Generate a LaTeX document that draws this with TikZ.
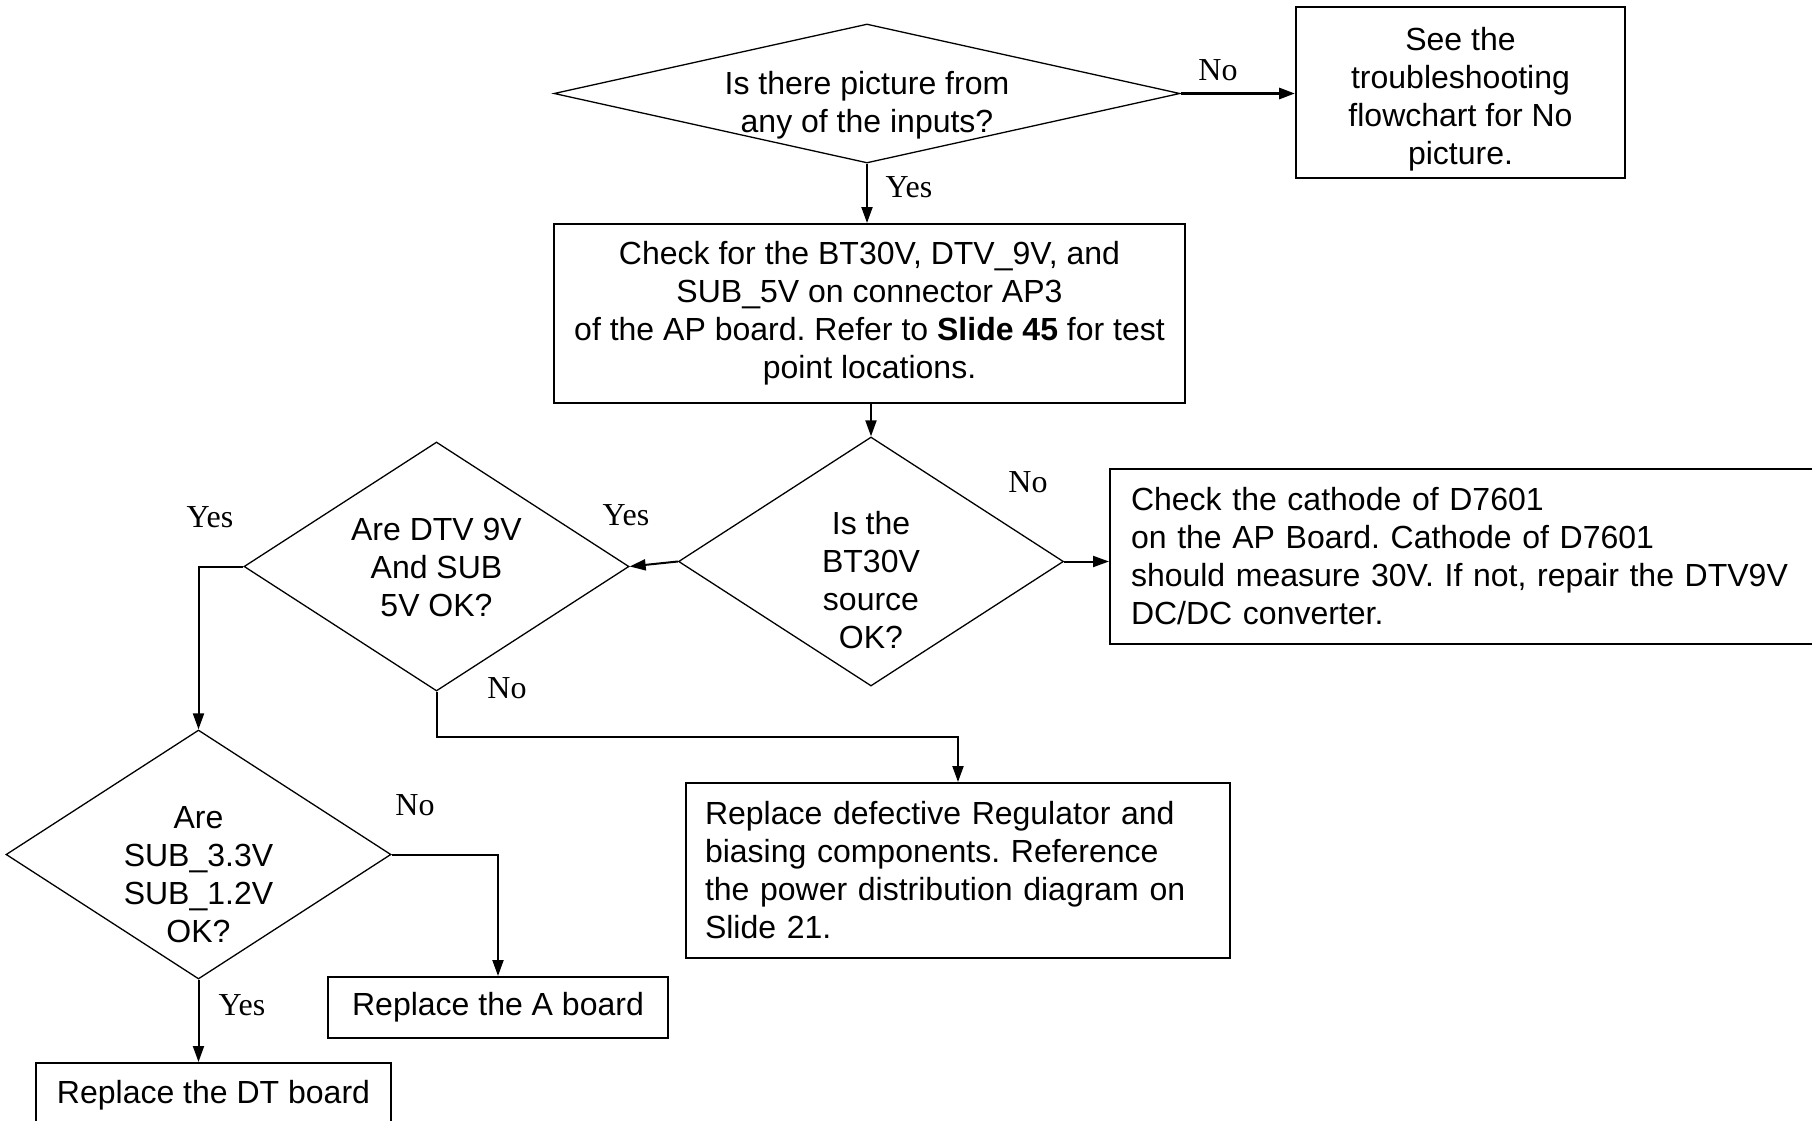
\documentclass[tikz,border=0pt]{standalone}
\usepackage{fontspec}
\setmainfont{Liberation Sans}
\newfontfamily\lblfont{Liberation Serif}
\frenchspacing
\usetikzlibrary{shapes.geometric,arrows.meta}
\tikzset{
  askbox/.style={diamond,draw,line width=1.3pt,inner sep=0pt,
    minimum width=385pt,minimum height=249pt},
  asktext/.style={inner sep=0pt,align=center,font=\fontsize{32}{38}\selectfont},
  dobox/.style={rectangle,draw,line width=2pt,inner sep=0pt,align=center,
    font=\fontsize{32}{38}\selectfont},
  flow/.style={line width=2pt,-{Triangle[length=16pt,width=11pt]}},
  ans/.style={inner sep=0pt,font=\lblfont\fontsize{32}{38}\selectfont}
}

\begin{document}
\begin{tikzpicture}[x=1pt,y=-1pt]
  \useasboundingbox (0,0) rectangle (1812,1121);
  % questions
  \node[askbox,minimum width=626pt,minimum height=139pt] (q1) at (867,93.5) {};
  \node[askbox] (q2) at (871,561.5) {};
  \node[askbox] (q3) at (436.5,566.5) {};
  \node[askbox] (q4) at (198.5,854.5) {};
  \node[asktext] (q1t) at ([yshift=-12pt]q1.center) {Is there picture from\\any of the inputs?};
  \node[asktext] (q2t) at ([yshift=-19pt]q2.center) {Is the\\BT30V\\source\\OK?};
  \node[asktext] (q3t) at ([yshift=-1pt]q3.center) {Are DTV 9V\\And SUB\\5V OK?};
  \node[asktext] (q4t) at ([yshift=-20pt]q4.center) {Are\\SUB\_3.3V\\SUB\_1.2V\\OK?};
  % actions
  \node[dobox,minimum width=329pt,minimum height=171pt] (see) at (1460.5,92.5)
    {\rule{0pt}{37pt}See the\\troubleshooting\\flowchart for No\\picture.};
  \node[dobox,minimum width=631pt,minimum height=179pt] (chk) at (869.5,313.5)
    {Check for the BT30V, DTV\_9V, and\\SUB\_5V on connector AP3\\of the AP board. Refer to \textbf{Slide 45} for test\\point locations.};
  \node[dobox,anchor=west,minimum width=721pt,minimum height=175pt,text width=679pt,align=left] (cath) at (1109,556.5)
    {Check the cathode of D7601\\on the AP Board. Cathode of D7601\\should measure 30V. If not, repair the DTV9V\\DC/DC converter.};
  \node[dobox,minimum width=544pt,minimum height=175pt,text width=506pt,align=left] (reg) at (958,870.5)
    {Replace defective Regulator and\\biasing components. Reference\\the power distribution diagram on\\Slide 21.};
  \node[dobox,minimum width=340pt,minimum height=61pt] (aboard) at (498,1007.5) {Replace the A board};
  \node[dobox,minimum width=355pt,minimum height=64pt] (dtboard) at (213.5,1095) {Replace the DT board};
  % connectors
  \draw[flow,line width=3pt] (q1.east) -- (q1.east -| see.west);
  \draw[flow] (q1.south) -- (q1.south |- chk.north);
  \draw[flow] (chk.south -| q2.north) -- (q2.north);
  \draw[flow] (q2.west) -- (q3.east);
  \draw[flow] (q2.east) -- (q2.east -| cath.west);
  \draw[flow] (q3.west) -| (q4.north);
  \draw[flow] (q3.south) -- ++(0,45) -| (reg.north);
  \draw[flow] (q4.east) -| (aboard.north);
  \draw[flow] (q4.south) -- (q4.south |- dtboard.north);
  % answers
  \node[ans] (n1) at (1218,70) {No};
  \node[ans] (y1) at (909,187) {Yes};
  \node[ans] (n2) at (1028,482) {No};
  \node[ans] (y2) at (626,515) {Yes};
  \node[ans] (y3) at (210,517) {Yes};
  \node[ans] (n3) at (507,688) {No};
  \node[ans] (n4) at (415,805) {No};
  \node[ans] (y4) at (242,1005) {Yes};
\end{tikzpicture}
\end{document}
